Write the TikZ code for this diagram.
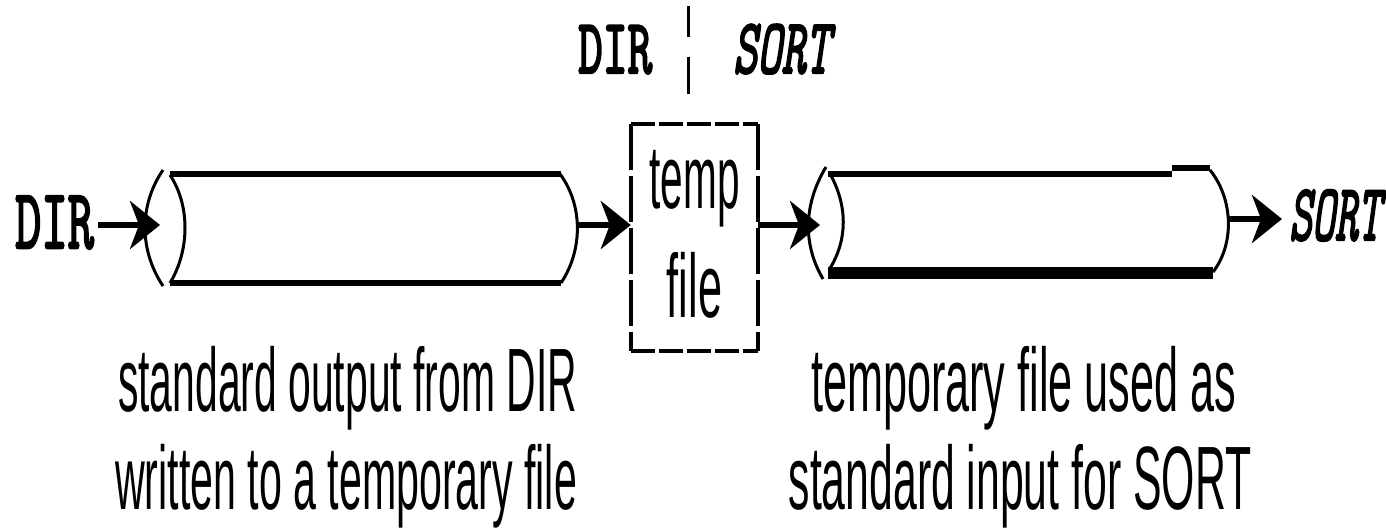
\documentclass[tikz,border=0pt]{standalone}
\usepackage{graphicx}
\usepackage{fontspec}
\setmainfont{Liberation Sans}
\newfontfamily\monoup{lmmono10-regular.otf}[FakeBold=3]
\newfontfamily\monoit{lmmono10-italic.otf}[FakeBold=3]
\usetikzlibrary{arrows.meta}

% condensed sans text and stretched typewriter text
\newcommand{\narrowtxt}[2][0.47]{\scalebox{#1}[1]{#2}}
\newcommand{\talltxt}[2]{\scalebox{1}[#1]{#2}}

\tikzset{
  pipeline/.style={line width=6pt},
  rimline/.style={line width=3pt},
  conn/.style={line width=6pt, -{Stealth[length=30pt,width=48pt,inset=9pt]}},
  capline/.style={inner sep=0pt, font=\fontsize{90}{100}\selectfont},
  mono/.style={inner sep=0pt, font=\fontsize{#1}{60}\selectfont\monoup},
  hdash/.style={line width=3.5pt, dash pattern=on 24pt off 4pt},
  vdash/.style={line width=3.5pt, dash pattern=on 46pt off 6pt},
}

\begin{document}
\begin{tikzpicture}[x=1pt, y=-1pt]
\useasboundingbox (0,0) rectangle (1386,529);

% ---- command line at the top: DIR | SORT
\node[mono=47, anchor=base west] (topdir) at (578,73) {\talltxt{1.65}{DIR}};
\node[mono=46, anchor=base west] (topsort) at (733,73) {\talltxt{1.7}{\monoit SORT}};
\draw[line width=3pt] (688,6) -- (688,37);
\draw[line width=3pt] (688,57) -- (688,94);

% ---- left label
\node[mono=50, anchor=base west] (dir) at (15,248) {\talltxt{1.7}{DIR}};

% ---- first pipe
\draw[pipeline] (170,174) -- (561,174);
\draw[pipeline] (170,283) -- (561,283);
\draw[rimline] (163,170) .. controls (139,205) and (139,250) .. (163,286);
\draw[rimline] (170,175) .. controls (190,205) and (190,250) .. (170,283);
\draw[rimline] (560,174) .. controls (583,205) and (583,250) .. (561,283);
\coordinate (p1in) at (160,225);
\coordinate (p1out) at (577,225);

% ---- temporary file
\node[minimum width=127pt, minimum height=227pt, inner sep=0pt] (tmp) at (694.5,237.5) {};
\draw[hdash] (tmp.north west) -- (tmp.north east);
\draw[hdash] (tmp.south west) -- (tmp.south east);
\draw[vdash] (tmp.north west) -- (tmp.south west);
\draw[vdash] (tmp.north east) -- (tmp.south east);
\node[inner sep=0pt, font=\fontsize{90}{100}\selectfont, anchor=base] (tmptop) at (694.5,209) {\narrowtxt[0.45]{temp}};
\node[inner sep=0pt, font=\fontsize{90}{100}\selectfont, anchor=base] (tmpbot) at (694.5,317) {\narrowtxt[0.48]{file}};

% ---- second pipe
\draw[pipeline] (828,174) -- (1172,174);
\draw[pipeline] (1172,168) -- (1210,168);
\draw[line width=12pt] (828,273) -- (1213,273);
\draw[rimline] (826,167) .. controls (803,205) and (803,245) .. (823,279);
\draw[rimline] (829,172) .. controls (848,205) and (848,240) .. (829,270);
\draw[rimline] (1210,170) .. controls (1234,200) and (1234,245) .. (1213,272);
\coordinate (p2in) at (820,225);
\coordinate (p2out) at (1228,219);

% ---- right label
\node[mono=43.5, anchor=base west] (sort) at (1289,240) {\talltxt{1.85}{\monoit SORT}};

% ---- connectors
\draw[conn] ([xshift=4pt]dir.east |- p1in) -- (p1in);
\draw[conn] (p1out) -- (tmp.west |- p1out);
\draw[conn] (tmp.east |- p2in) -- (p2in);
\draw[conn] (p2out) -- ([xshift=-7pt]sort.west |- p2out);

% ---- captions
\node[capline, anchor=base west] (capLa) at (118,411) {\narrowtxt[0.454]{standard output from DIR}};
\node[capline, anchor=base west] (capLb) at (115,509) {\narrowtxt[0.457]{written to a temporary file}};
\node[capline, anchor=base] (capRa) at (1023.5,411) {\narrowtxt[0.48]{temporary file used as}};
\node[capline, anchor=base] (capRb) at (1020,509) {\narrowtxt[0.475]{standard input for SORT}};
\end{tikzpicture}
\end{document}
